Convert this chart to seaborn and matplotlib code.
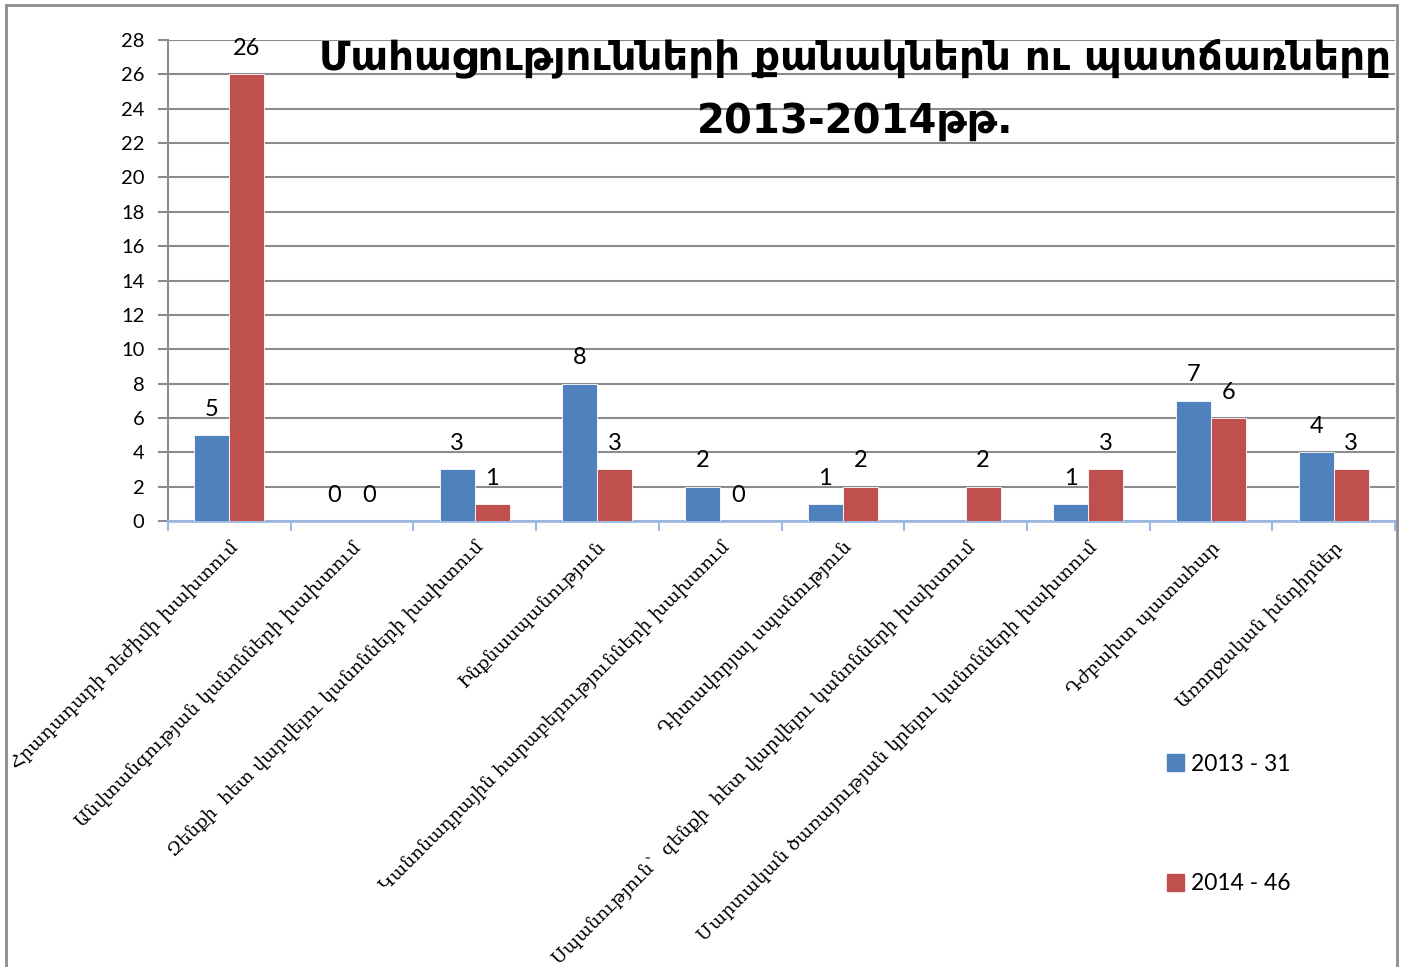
import numpy as np
import pandas as pd
import matplotlib
matplotlib.use("Agg")
import matplotlib.pyplot as plt
from matplotlib.lines import Line2D
import seaborn as sns

# data
causes = [
    "Հրադադարի ռեժիմի խախտում",
    "Անվտանգության կանոնների խախտում",
    "Զենքի  հետ վարվելու կանոնների խախտում",
    "Ինքնասպանություն",
    "Կանոնադրային հարաբերությունների խախտում",
    "Դիտավորյալ սպանություն",
    "Սպանություն՝  զենքի  հետ վարվելու կանոնների խախտում",
    "Մարտական ծառայության կրելու կանոնների խախտում",
    "Դժբախտ պատահար",
    "Առողջական խնդիրներ",
]
deaths_2013 = [5, 0, 3, 8, 2, 1, np.nan, 1, 7, 4]
deaths_2014 = [26, 0, 1, 3, 0, 2, 2, 3, 6, 3]
series_names = ["2013 - 31", "2014 - 46"]
colors = ["#4F81BD", "#C0504D"]

df = pd.DataFrame({
    "cause": causes * 2,
    "count": deaths_2013 + deaths_2014,
    "year": [series_names[0]] * len(causes) + [series_names[1]] * len(causes),
})

sns.set_style("white")
plt.rcParams["font.family"] = ["Lato", "DejaVu Sans"]
plt.rcParams["text.color"] = "black"
plt.rcParams["xtick.color"] = "black"
plt.rcParams["ytick.color"] = "black"

W, H = 1401, 967
fig = plt.figure(figsize=(W / 100, H / 100), dpi=100)
ax = fig.add_axes([168 / W, 1 - 521 / H, (1395 - 168) / W, (521 - 40) / H])

sns.barplot(data=df.dropna(), x="cause", y="count", hue="year",
            order=causes, hue_order=series_names, palette=colors,
            saturation=1, width=0.57, gap=0, errorbar=None, ax=ax,
            legend=False, linewidth=0.6, edgecolor="white", zorder=3)

for cont in ax.containers:
    ax.bar_label(cont, fmt="%g", padding=11, fontsize=17, color="black")

ax.set_ylim(0, 28)
ax.set_xlim(-0.5, len(causes) - 0.5)
ax.set_yticks(range(0, 29, 2))
ax.yaxis.grid(True, color="#8c8c8c", linewidth=1.5, zorder=0)
ax.set_axisbelow(True)
ax.set_xlabel("")
ax.set_ylabel("")

for s in ["top", "right"]:
    ax.spines[s].set_visible(False)
ax.spines["left"].set_color("#8c8c8c")
ax.spines["left"].set_linewidth(1.5)
ax.spines["bottom"].set_color("#9DB9E3")
ax.spines["bottom"].set_linewidth(2)

ax.tick_params(axis="y", left=True, length=7, width=1.5, color="#8c8c8c",
               labelsize=14.5, pad=10)
ax.set_xticks(np.arange(len(causes)))
ax.set_xticklabels(causes, rotation=45, ha="right", rotation_mode="anchor",
                   fontsize=13.3, family=["DejaVu Serif", "DejaVu Sans"])
ax.tick_params(axis="x", bottom=False, pad=9)
ax.set_xticks(np.arange(len(causes) + 1) - 0.5, minor=True)
ax.tick_params(axis="x", which="minor", bottom=True, length=7, width=1.5,
               color="#9DB9E3")

# title sits over the plot area
fig.text(855 / W, 1 - 58 / H, "Մահացությունների քանակներն ու պատճառները",
         ha="center", va="center", fontsize=29, fontweight="bold",
         family=["DejaVu Sans"])
fig.text(855 / W, 1 - 122 / H, "2013-2014թթ.", ha="center", va="center",
         fontsize=29, fontweight="bold", family=["DejaVu Sans"])

# legend below the plot on the right
handles = [plt.Rectangle((0, 0), 1, 1, color=c) for c in colors]
fig.legend(handles, series_names, loc="center left",
           bbox_to_anchor=(1146 / W, 1 - 824 / H), frameon=False,
           fontsize=16.5, handlelength=0.75, handleheight=0.75,
           handletextpad=0.3, labelspacing=4.3)

# chart border
for xs, ys in [((6, 6), (5, H)), ((6, 1397), (5, 5)), ((1397, 1397), (5, H))]:
    fig.add_artist(Line2D([x / W for x in xs], [1 - y / H for y in ys],
                          color="#8c8c8c", linewidth=2))

plt.savefig("out.png", dpi=100)
plt.close()
